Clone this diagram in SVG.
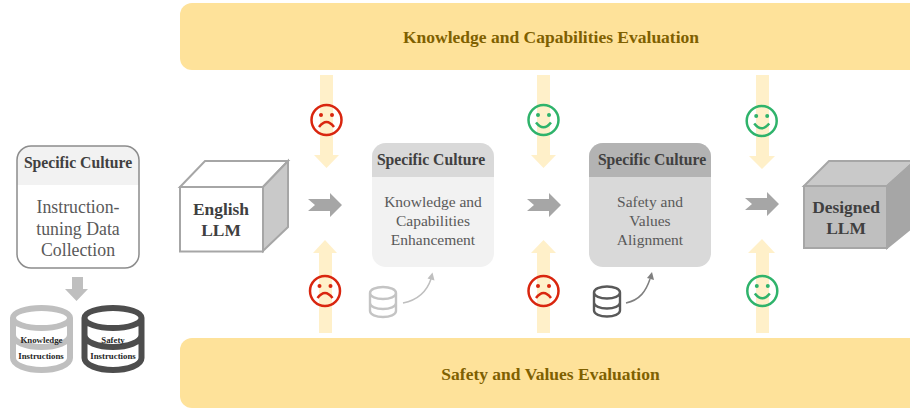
<svg xmlns="http://www.w3.org/2000/svg" width="910" height="412" viewBox="0 0 910 412">
<style>
text{font-family:"Liberation Serif","Times New Roman",serif;text-anchor:middle;fill:#595959}
.hd{font-weight:bold;font-size:15.700px;fill:#404040}
.body{font-size:15.500px}
.band{fill:#fee29a}
.bandt{font-weight:bold;font-size:17.500px;fill:#7f6000}
.ya{fill:#fff0c9}
.ga{fill:#a6a6a6}
.cubet{font-weight:bold;font-size:17.400px;fill:#404040}
.face{fill:none;stroke-width:2.500}
.sad{stroke:#d9260f}
.sadf{fill:#d9260f}
.hap{stroke:#2fb36b}
.hapf{fill:#2fb36b}
.db{fill:none;stroke-linecap:round}
.mini{font-weight:bold;font-size:8.800px;fill:#262626}
</style>
<defs>
<g id="sadface"><circle r="15" class="face sad"/><circle cx="-5.500" cy="-5" r="2" class="sadf"/><circle cx="5.500" cy="-5" r="2" class="sadf"/><path d="M-7.500 7Q0-3 7.500 7" class="face sad"/></g>
<g id="hapface"><circle r="15" class="face hap"/><circle cx="-5.500" cy="-5" r="2" class="hapf"/><circle cx="5.500" cy="-5" r="2" class="hapf"/><path d="M-7.500 2.500Q0 12 7.500 2.500" class="face hap"/></g>
<path id="garrow" d="M0-6H22V-12L34 0 22 12V6H0L7 0Z" class="ga"/>
<path id="dbshape" d="M-28.500-10V30C-28.500 37-15 42 0 42S28.500 37 28.500 30V-10M-28.500-10C-28.500-16-15-20 0-20S28.500-16 28.500-10 15 0 0 0-28.500-4-28.500-10ZM-28.500 7C-28.500 14-15 19 0 19S28.500 14 28.500 7" class="db"/>
<path id="dbsmall" d="M-13-9V9C-13 12.500-7 15 0 15S13 12.500 13 9V-9M-13-9C-13-12.500-7-15 0-15S13-12.500 13-9 7-3 0-3-13-5.500-13-9ZM-13 1C-13 4.500-7 7 0 7S13 4.500 13 1" class="db"/>
</defs>

<g id="knowledge-eval"><rect class="band" x="180" y="3" width="760" height="67" rx="12"/><text class="bandt" x="551" y="43">Knowledge and Capabilities Evaluation</text></g>
<g id="safety-eval"><rect class="band" x="180" y="338" width="760" height="70" rx="12"/><text class="bandt" x="550.500" y="380">Safety and Values Evaluation</text></g>

<g id="connectors">
<path class="ya" d="M320 75H333V155H339L326.500 168 314 155H320Z"/>
<path class="ya" d="M319 333H332V253H337L325 240 313 253H319Z"/>
<path class="ya" d="M537 75H550V155H556L543.500 168 531 155H537Z"/>
<path class="ya" d="M537 333H550V253H556L543.500 240 531 253H537Z"/>
<path class="ya" d="M756 75H769V156H775L762 169 749 156H756Z"/>
<path class="ya" d="M756 333H769V253H775L762 239 748 253H756Z"/>
<use href="#garrow" x="308" y="205"/>
<use href="#garrow" x="527" y="205"/>
<use href="#garrow" x="745" y="204"/>
<path fill="#bfbfbf" d="M72 277H83V289H88L76.500 301 65 289H72Z"/>
<path d="M403 303C418 300 427 291 431 279" fill="none" stroke="#bfbfbf" stroke-width="1.500"/>
<path d="M432.500 272.500L434.500 280.500 427.500 278.500Z" fill="#bfbfbf"/>
<path d="M626 303C640 300 646 291 650 279" fill="none" stroke="#7f7f7f" stroke-width="1.500"/>
<path d="M652 272L654 280 647 278Z" fill="#7f7f7f"/>
</g>

<g id="faces">
<use href="#sadface" x="326.500" y="120"/>
<use href="#sadface" x="325" y="291"/>
<use href="#hapface" x="543.500" y="120"/>
<use href="#sadface" x="543.500" y="291"/>
<use href="#hapface" x="761.700" y="121"/>
<use href="#hapface" x="762.300" y="291"/>
</g>

<g id="data-collection">
<rect x="17" y="146" width="122" height="122" rx="14" fill="#fff"/>
<path d="M17 185V160A14 14 0 0 1 31 146H125A14 14 0 0 1 139 160V185Z" fill="#f2f2f2"/>
<rect x="17" y="146" width="122" height="122" rx="14" fill="none" stroke="#8c8c8c" stroke-width="1.500"/>
<text class="hd" x="78" y="168">Specific Culture</text>
<text x="78" y="213" font-size="17.800">Instruction-</text>
<text x="78" y="234.500" font-size="17.800">tuning Data</text>
<text x="78" y="255.500" font-size="17.800">Collection</text>
</g>

<g id="db-knowledge">
<use href="#dbshape" x="41.500" y="328" stroke="#bfbfbf" stroke-width="6"/>
<text class="mini" x="41.500" y="343">Knowledge</text>
<text class="mini" x="41" y="359">Instructions</text>
</g>
<g id="db-safety">
<use href="#dbshape" x="113" y="328" stroke="#4d4d4d" stroke-width="6"/>
<text class="mini" x="113" y="343">Safety</text>
<text class="mini" x="113" y="359">Instructions</text>
</g>

<g id="english-llm">
<path d="M180 187L205 161H288L263 187Z" fill="#fff" stroke="#a6a6a6" stroke-width="2"/>
<path d="M263 187L288 161V227L263 251Z" fill="#c9c9c9" stroke="#a6a6a6" stroke-width="2"/>
<rect x="180" y="187" width="83" height="64.500" fill="#fff" stroke="#a6a6a6" stroke-width="2"/>
<text class="cubet" x="221" y="215">English</text>
<text class="cubet" x="221" y="236">LLM</text>
</g>

<g id="enhancement">
<rect x="372" y="143" width="122" height="124" rx="14" fill="#f2f2f2"/>
<path d="M372 177V157A14 14 0 0 1 386 143H480A14 14 0 0 1 494 157V177Z" fill="#d9d9d9"/>
<text class="hd" x="431" y="165">Specific Culture</text>
<text class="body" x="433" y="207">Knowledge and</text>
<text class="body" x="433" y="226">Capabilities</text>
<text class="body" x="433" y="245">Enhancement</text>
</g>

<g id="alignment">
<rect x="589" y="143" width="122" height="124" rx="14" fill="#d9d9d9"/>
<path d="M589 177V157A14 14 0 0 1 603 143H697A14 14 0 0 1 711 157V177Z" fill="#b3b3b3"/>
<text class="hd" x="652" y="165">Specific Culture</text>
<text class="body" x="650" y="207">Safety and</text>
<text class="body" x="650" y="226">Values</text>
<text class="body" x="650" y="245">Alignment</text>
</g>

<g id="db-small-light"><use href="#dbsmall" x="383" y="302" stroke="#c4c4c4" stroke-width="2.400"/></g>
<g id="db-small-dark"><use href="#dbsmall" x="607" y="301.500" stroke="#595959" stroke-width="2.400"/></g>

<g id="designed-llm">
<path d="M804 186L829 161H915L887 186Z" fill="#c9c9c9" stroke="#a6a6a6" stroke-width="2"/>
<path d="M887 186L915 161V225L887 248Z" fill="#a6a6a6" stroke="#a6a6a6" stroke-width="2"/>
<rect x="804" y="186" width="83" height="62" fill="#bfbfbf" stroke="#a6a6a6" stroke-width="2"/>
<text class="cubet" x="846" y="213">Designed</text>
<text class="cubet" x="846" y="234">LLM</text>
</g>
</svg>
